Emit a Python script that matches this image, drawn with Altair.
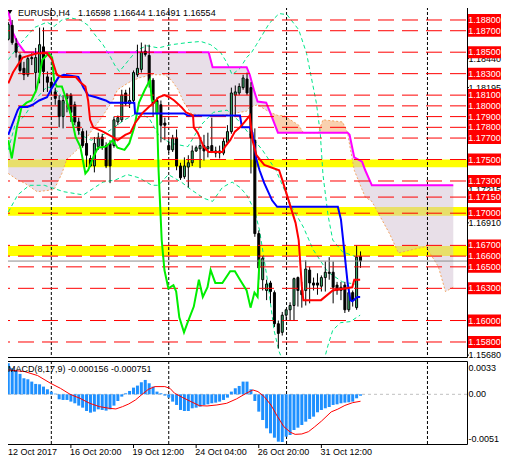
import altair as alt
import pandas as pd

# ---------------- EURUSD H4 candles ----------------
opens = [1.1862,1.1875,1.1858,1.1847,1.1835,1.1829,1.1845,1.1831,1.1831,1.1855,
         1.1827,1.1822,1.1813,1.1805,1.1790,1.1807,1.1810,1.1801,1.1785,1.1776,
         1.1765,1.1751,1.1744,1.1762,1.1771,1.1763,1.1765,1.1763,1.1785,1.1787,
         1.1812,1.1802,1.1805,1.1829,1.1834,1.1851,1.1847,1.1824,1.1805,1.1801,
         1.1784,1.1763,1.1759,1.1770,1.1744,1.1734,1.1743,1.1747,1.1758,1.1760,
         1.1763,1.1760,1.1763,1.1758,1.1756,1.1756,1.1766,1.1776,1.1810,1.1812,
         1.1817,1.1825,1.1817,1.1768,1.1681,1.1638,1.1628,1.1635,1.1626,1.1597,
         1.1589,1.1605,1.1610,1.1614,1.1640,1.1628,1.1628,1.1647,1.1635,1.1635,
         1.1632,1.1640,1.1645,1.1645,1.1633,1.1628,1.1633,1.1610,1.1626,1.1612,
         1.16598]
highs = [1.1878,1.1880,1.1863,1.1849,1.1841,1.1847,1.1849,1.1854,1.1873,1.1873,
         1.1832,1.1826,1.1817,1.1810,1.1810,1.1812,1.1812,1.1804,1.1789,1.1779,
         1.1777,1.1754,1.1771,1.1775,1.1774,1.1766,1.1768,1.1790,1.1791,1.1815,
         1.1815,1.1817,1.1833,1.1857,1.1859,1.1857,1.1857,1.1826,1.1808,1.1805,
         1.1789,1.1768,1.1773,1.1778,1.1747,1.1752,1.1754,1.1763,1.1763,1.1770,
         1.1773,1.1775,1.1789,1.1762,1.1763,1.1770,1.1782,1.1817,1.1819,1.1821,
         1.1829,1.1831,1.1822,1.1779,1.1684,1.1660,1.1638,1.1637,1.1628,1.1600,
         1.1608,1.1611,1.1617,1.1640,1.1641,1.1636,1.1656,1.1650,1.1640,1.1644,
         1.1642,1.1655,1.1659,1.1655,1.1636,1.1636,1.1636,1.1630,1.1628,1.1670,
         1.16644]
lows = [1.1861,1.1857,1.1845,1.1831,1.1824,1.1827,1.1838,1.1812,1.1821,1.1813,
        1.1813,1.1810,1.1801,1.1780,1.1779,1.1794,1.1785,1.1782,1.1773,1.1761,
        1.1743,1.1743,1.1738,1.1759,1.1759,1.1742,1.1728,1.1761,1.1782,1.1785,
        1.1800,1.1798,1.1802,1.1827,1.1831,1.1846,1.1817,1.1790,1.1789,1.1766,
        1.1768,1.1756,1.1757,1.1740,1.1731,1.1732,1.1724,1.1744,1.1757,1.1742,
        1.1749,1.1752,1.1756,1.1752,1.1751,1.1754,1.1764,1.1774,1.1790,1.1810,
        1.1815,1.1810,1.1737,1.1678,1.1638,1.1628,1.1619,1.1616,1.1594,1.1574,
        1.1586,1.1600,1.1600,1.1600,1.1613,1.1612,1.1614,1.1616,1.1628,1.1624,
        1.1627,1.1627,1.1638,1.1616,1.1624,1.1619,1.1607,1.1608,1.1613,1.1610,
        1.16491]
closes = [1.1876,1.1859,1.1850,1.1833,1.1829,1.1844,1.1844,1.1845,1.1857,1.1832,
          1.1822,1.1817,1.1807,1.1790,1.1805,1.1810,1.1794,1.1785,1.1777,1.1763,
          1.1754,1.1744,1.1765,1.1770,1.1763,1.1744,1.1744,1.1787,1.1789,1.1810,
          1.1802,1.1805,1.1831,1.1835,1.1850,1.1848,1.1821,1.1802,1.1793,1.1782,
          1.1782,1.1759,1.1770,1.1744,1.1733,1.1744,1.1747,1.1758,1.1761,1.1763,
          1.1758,1.1762,1.1758,1.1756,1.1758,1.1767,1.1776,1.1812,1.1813,1.1818,
          1.1826,1.1812,1.1770,1.1681,1.1649,1.1658,1.1634,1.1627,1.1597,1.1588,
          1.1605,1.1610,1.1614,1.1639,1.1628,1.1624,1.1648,1.1635,1.1633,1.1633,
          1.1640,1.1645,1.1644,1.1631,1.1628,1.1631,1.1610,1.1626,1.1619,1.1659,
          1.16554]

# ---------------- Ichimoku ----------------
tenkan_bar = [0,1.2,2.4,3.7,5.4,7.4,9.9,11.2,12.4,13.7,17.2,18.4,19.7,20.4,20.9,21.7,24.2,26.7,27.9,29.9,
              31.2,32.4,34.2,35.9,37.2,38.4,39.9,41.2,42.4,44.2,45.4,47.2,47.4,48.4,49.9,51.2,54.7,55.4,56.7,57.9,
              59.2,60.4,61.7,62.4,63.4,65.4,69.2,70.0,73.4,74.2,75.0,75.4,79.9,82.9,87.9,88.4,89.9]
tenkan_val = [1.1821,1.1831,1.1838,1.1845,1.1847,1.1849,1.1849,1.1843,1.1829,1.1827,1.1827,1.1822,1.1818,1.1805,1.1787,1.1780,1.1776,1.1771,1.1768,1.1773,
              1.1775,1.1784,1.1793,1.1799,1.1803,1.1808,1.1810,1.1808,1.1805,1.1799,1.1794,1.1791,1.1780,1.1775,1.1762,1.1757,1.1757,1.1762,1.1768,1.1776,
              1.1780,1.1785,1.1791,1.1768,1.1754,1.1745,1.1740,1.1731,1.1691,1.1675,1.1632,1.1619,1.1619,1.1628,1.1631,1.1638,1.1638]
kijun_bar = [0,2.4,2.9,4.9,6.2,7.9,9.9,11.2,12.9,14.2,17.9,19.2,20.4,22.4,24.9,25.9,32.2,32.4,44.9,45.9,
             59.2,59.7,61.7,62.4,63.4,64.2,65.4,67.4,68.7,84.2,85.0,85.9,86.7,87.4,87.9,89.2,89.9]
kijun_val = [1.1773,1.1796,1.1799,1.1799,1.1801,1.1805,1.1808,1.1817,1.1827,1.1829,1.1827,1.1817,1.1810,1.1808,1.1805,1.1803,1.1803,1.1793,1.1793,1.1791,
             1.1791,1.1780,1.1780,1.1775,1.1750,1.1740,1.1728,1.1712,1.1706,1.1706,1.1694,1.1663,1.1635,1.1619,1.1618,1.1622,1.1622]
chikou_bar = [0,0.9,2.2,3.4,4.7,5.9,7.2,7.9,8.7,10.4,11.2,11.7,12.4,13.7,14.9,15.9,17.2,18.4,19.7,20.4,
              21.7,22.9,24.9,26.7,27.9,29.7,30.9,32.2,33.4,34.9,36.2,36.7,37.9,38.4,39.2,39.9,40.9,42.2,42.9,43.7,
              44.9,45.9,47.4,48.7,49.7,50.9,51.7,52.9,54.7,56.7,57.9,59.2,60.9,61.9,62.9,63.7,64.2]
chikou_val = [1.1768,1.1751,1.1780,1.1799,1.1803,1.1805,1.1815,1.1827,1.1843,1.1849,1.1845,1.1824,1.1818,1.1818,1.1805,1.1793,1.1771,1.1762,1.1737,1.1740,
              1.1752,1.1761,1.1762,1.1768,1.1761,1.1759,1.1765,1.1780,1.1803,1.1815,1.1824,1.1805,1.1803,1.1740,1.1675,1.1647,1.1630,1.1633,1.1627,1.1603,
              1.1589,1.1599,1.1613,1.1638,1.1622,1.1631,1.1647,1.1635,1.1635,1.1646,1.1646,1.1638,1.1628,1.1612,1.1626,1.1622,1.1657]
cloud_bar = [0,1.2,2.4,4.2,7.4,11.7,13.7,14.9,16.7,19.2,20.9,22.4,24.2,26.7,27.9,30.9,33.4,36.7,39.9,41.7,
             43.4,44.9,46.7,49.2,51.2,52.2,54.2,57.4,60.9,61.7,62.9,63.7,65.9,66.9,68.9,70.4,74.2,75.4,79.2,80.4,
             85.4,86.7,87.2,88.4,90.4,91.2,92.9,97.4,99.7,106.7,109.9,111.7,113.7]
span_b = [1.1889,1.1868,1.1859,1.1850,1.1850,1.1850,1.1850,1.1850,1.1850,1.1850,
          1.1850,1.1850,1.1850,1.1850,1.1850,1.1850,1.1850,1.1850,1.1850,1.1850,
          1.1850,1.1850,1.1850,1.1850,1.1850,1.1836,1.1836,1.1836,1.1836,1.1829,
          1.1813,1.1804,1.1803,1.1794,1.1775,1.1775,1.1775,1.1775,1.1775,1.1775,
          1.1775,1.1775,1.1773,1.1752,1.1748,1.1740,1.1726,1.1726,1.1726,1.1726,
          1.1726,1.1726,1.1726]
span_a = [1.1737,1.1734,1.1731,1.1728,1.1720,1.1722,1.1737,1.1750,1.1756,1.1765,
          1.1775,1.1782,1.1791,1.1805,1.1815,1.1822,1.1826,1.1829,1.1829,1.1824,
          1.1815,1.1803,1.1793,1.1791,1.1791,1.1791,1.1791,1.1793,1.1795,1.1799,
          1.1800,1.1801,1.1796,1.1794,1.1791,1.1791,1.1782,1.1775,1.1775,1.1787,
          1.1785,1.1775,1.1764,1.1740,1.1722,1.1715,1.1711,1.1681,1.1663,1.1669,
          1.1650,1.1627,1.1631]
cloud_segments = [("thistle", 0.0, 66.9), ("sandy", 66.9, 75.4), ("sandy", 79.2, 86.7), ("thistle", 86.7, 114.0)]

# ---------------- Bollinger-style bands ----------------
bb_up_bar = [0,2.9,6.7,9.9,11.7,13.7,15.9,18.4,20.4,22.2,24.2,25.9,27.2,28.4,30.4,32.9,35.4,38.4,41.7,45.9,
             49.2,51.7,54.2,55.9,57.2,59.2,60.9,62.2,63.4,64.9,66.7,69.2,71.2,74.2,76.2,77.4,78.7,79.7,80.4,81.7,
             82.9,85.4,89.9]
bb_up_val = [1.1843,1.1857,1.1873,1.1878,1.1874,1.1880,1.1882,1.1880,1.1875,1.1866,1.1857,1.1847,1.1838,1.1832,1.1841,1.1852,1.1856,1.1854,1.1857,1.1859,
             1.1860,1.1857,1.1850,1.1840,1.1829,1.1835,1.1845,1.1850,1.1857,1.1866,1.1877,1.1886,1.1885,1.1871,1.1849,1.1827,1.1803,1.1775,1.1736,1.1698,
             1.1675,1.1664,1.1658]
bb_mid_bar = [0,1.7,4.2,6.7,9.9,12.9,15.4,18.4,21.2,24.2,26.7,29.7,32.9,35.9,38.7,41.7,45.9,49.2,52.4,55.9,
              59.2,61.7,64.9,68.4,72.4,75.4,77.9,81.7,85.4,89.9]
bb_mid_val = [1.1759,1.1782,1.1791,1.1805,1.1818,1.1813,1.1796,1.1773,1.1768,1.1773,1.1779,1.1787,1.1793,1.1789,1.1771,1.1765,1.1762,1.1782,1.1794,1.1796,
              1.1785,1.1773,1.1759,1.1740,1.1706,1.1687,1.1666,1.1645,1.1636,1.1633]
bb_low_bar = [0,2.4,5.4,9.2,14.2,19.2,24.2,27.4,30.4,33.4,36.7,38.4,40.9,44.2,46.7,49.9,52.2,54.7,57.2,59.2,
              60.9,62.9,64.2,66.2,67.9,69.2,71.7,76.7,80.4,81.7,82.9,84.9,87.4,89.9]
bb_low_val = [1.1701,1.1717,1.1726,1.1726,1.1720,1.1717,1.1729,1.1731,1.1736,1.1733,1.1726,1.1726,1.1736,1.1729,1.1722,1.1714,1.1711,1.1724,1.1729,1.1724,
              1.1717,1.1703,1.1684,1.1638,1.1591,1.1571,1.1549,1.1545,1.1559,1.1577,1.1591,1.1598,1.1599,1.1605]

# ---------------- MACD(8,17,9) ----------------
macd_main = [0.00336,0.00281,0.00256,0.00220,0.00173,0.00162,0.00137,0.00112,0.00108,0.00083,
             0.00054,0.00029,0.00007,-0.00054,-0.00061,-0.00061,-0.00079,-0.00097,-0.00122,-0.00144,
             -0.00180,-0.00198,-0.00187,-0.00162,-0.00169,-0.00176,-0.00162,-0.00122,-0.00072,-0.00025,
             0.00011,0.00036,0.00072,0.00094,0.00130,0.00155,0.00119,0.00083,0.00029,0.00011,
             -0.00014,-0.00036,-0.00079,-0.00115,-0.00169,-0.00180,-0.00180,-0.00151,-0.00144,-0.00133,
             -0.00115,-0.00108,-0.00097,-0.00090,-0.00079,-0.00061,-0.00036,0.00029,0.00065,0.00090,
             0.00137,0.00137,0.00054,-0.00072,-0.00187,-0.00277,-0.00367,-0.00421,-0.00468,-0.00511,
             -0.005146,-0.00457,-0.00439,-0.00385,-0.00360,-0.00331,-0.00295,-0.00266,-0.00241,-0.00194,
             -0.00169,-0.00151,-0.00137,-0.00115,-0.00108,-0.00097,-0.00090,-0.00086,-0.00079,-0.00043,
             -0.000156]
signal_bar = [0,4.2,7.5,10.8,13.3,15.8,18.3,20.8,23.3,25.8,27.5,29.2,30.8,32.5,34.2,35.8,37.5,40,41.3,42.5,
              44.6,46.7,48.8,50.8,53.3,55.8,58.3,60.8,62.5,63.8,65.4,67.1,68.8,70.4,72.1,73.3,75,76.7,78.3,80,
              82.5,84.2,86,88,90]
signal_val = [0.00263,0.00245,0.00202,0.00119,0.00065,0.0,-0.00043,-0.00097,-0.00133,-0.00151,-0.00158,-0.00133,-0.00104,-0.00061,0.0,0.00054,0.00083,0.00083,0.00065,0.00011,
              -0.00036,-0.00079,-0.00122,-0.00126,-0.00115,-0.00097,-0.00050,0.00011,0.00047,0.00029,-0.00025,-0.00115,-0.00241,-0.00349,-0.00410,-0.00432,-0.00428,-0.00403,-0.00350,-0.00290,
              -0.00190,-0.00160,-0.00120,-0.00090,-0.000751]

# ---------------- levels, labels, texts ----------------
level_prices = [1.188,1.187,1.185,1.183,1.181,1.180,1.179,1.178,1.177,1.175,1.173,1.1715,1.170,1.167,1.166,1.165,1.163,1.160,1.158]
level_labels = ["1.18800","1.18700","1.18500","1.18300","1.18100","1.18000","1.17900","1.17800","1.17700","1.17500",
                "1.17300","1.17150","1.17000","1.16700","1.16600","1.16500","1.16300","1.16000","1.15800"]
band_lo = [1.17428, 1.16977, 1.16600]
band_hi = [1.17500, 1.17058, 1.16694]
scale_prices = [1.18440, 1.18170, 1.17215, 1.16910, 1.15678]
scale_labels = ["1.18440", "1.18195", "1.17215", "1.16910", "1.15680"]
bid_price = 1.16554
sep_bars = [11, 41, 71.1, 107.1]
time_bars = [16, 32, 48, 64, 80]
time_labels = ["16 Oct 20:00", "19 Oct 12:00", "24 Oct 04:00", "26 Oct 20:00", "31 Oct 12:00"]
first_time_label = "12 Oct 2017"
title_symbol = "EURUSD,H4"
title_prices = "1.16598 1.16644 1.16491 1.16554"
macd_title = "MACD(8,17,9) -0.000156 -0.000751"
macd_scale_labels = ["0.00336", "0.00", "-0.005146"]

# ---------------- geometry / scales ----------------
FONT = "Liberation Sans"
FS = 9
W, H1, H2 = 465, 355, 83
XS = alt.Scale(domain=[-0.325, 115.925], nice=False, zero=False)
PS = alt.Scale(domain=[1.156601, 1.189677], nice=False, zero=False)
MS = alt.Scale(domain=[-0.005361, 0.003592], nice=False, zero=False)


def xq(f="bar"):
    return alt.X(f"{f}:Q", scale=XS, axis=None)


def yp(f):
    return alt.Y(f"{f}:Q", scale=PS, axis=None)


def ym(f):
    return alt.Y(f"{f}:Q", scale=MS, axis=None)


candles = pd.DataFrame({"bar": list(range(len(opens))), "o": opens, "h": highs, "l": lows, "c": closes})
candles["top"] = candles[["o", "c"]].max(axis=1)
candles["bot"] = candles[["o", "c"]].min(axis=1)
candles["up"] = candles["c"] >= candles["o"]

rows = []
for k, (kind, b0, b1) in enumerate(cloud_segments):
    for b, a, bb in zip(cloud_bar, span_a, span_b):
        if b0 <= b <= b1:
            rows.append({"bar": b, "a": a, "b": bb, "seg": k, "kind": kind})
cloud_df = pd.DataFrame(rows)
spans_df = pd.DataFrame({"bar": cloud_bar, "a": span_a, "b": span_b})

bb_df = pd.concat([
    pd.DataFrame({"bar": bb_up_bar, "v": bb_up_val, "band": "up"}),
    pd.DataFrame({"bar": bb_mid_bar, "v": bb_mid_val, "band": "mid"}),
    pd.DataFrame({"bar": bb_low_bar, "v": bb_low_val, "band": "low"}),
])
levels_df = pd.DataFrame({"p": level_prices, "lab": level_labels})
bands_df = pd.DataFrame({"lo": band_lo, "hi": band_hi})
scale_df = pd.DataFrame({"p": scale_prices, "lab": scale_labels})
sep_df = pd.DataFrame({"bar": sep_bars})

txt = dict(font=FONT, fontSize=FS, color="black")

# ---------------- main panel ----------------
bands = alt.Chart(bands_df).mark_rect(color="#ffff00").encode(
    x=alt.value(0), x2=alt.value(W), y=yp("hi"), y2=alt.Y2("lo"))
cloud = alt.Chart(cloud_df).mark_area(opacity=0.5, clip=True).encode(
    x=xq(), y=yp("a"), y2=alt.Y2("b"), detail="seg:N",
    color=alt.Color("kind:N", scale=alt.Scale(domain=["thistle", "sandy"], range=["#d2c0d2", "#f4a460"]), legend=None))
seps = alt.Chart(sep_df).mark_rule(color="black", strokeDash=[3, 2], strokeWidth=1).encode(x=xq())
bbands = alt.Chart(bb_df).mark_line(color="#00e68a", strokeWidth=1, strokeDash=[4, 3], clip=True).encode(
    x=xq(), y=yp("v"), detail="band:N")
span_a_line = alt.Chart(spans_df).mark_line(color="#f4a460", strokeWidth=1, strokeDash=[2, 2], clip=True).encode(x=xq(), y=yp("a"))
span_b_line = alt.Chart(spans_df).mark_line(color="#ff00ff", strokeWidth=2, clip=True).encode(x=xq(), y=yp("b"))
wicks = alt.Chart(candles).mark_rule(color="black", strokeWidth=1, clip=True).encode(x=xq(), y=yp("l"), y2=alt.Y2("h"))
bodies = alt.Chart(candles).mark_bar(size=2, stroke="black", strokeWidth=1, clip=True).encode(
    x=xq(), y=yp("bot"), y2=alt.Y2("top"),
    fill=alt.condition("datum.up", alt.value("#3cb371"), alt.value("#000000")))
level_lines = alt.Chart(levels_df).mark_rule(color="#ff0000", strokeWidth=1, strokeDash=[16, 8], strokeDashOffset=23).encode(y=yp("p"))
bid_line = alt.Chart(pd.DataFrame({"p": [bid_price]})).mark_rule(color="#8c8c8c", strokeWidth=1).encode(y=yp("p"))
chikou = alt.Chart(pd.DataFrame({"bar": chikou_bar, "v": chikou_val})).mark_line(color="#00ee00", strokeWidth=2, clip=True).encode(x=xq(), y=yp("v"))
kijun = alt.Chart(pd.DataFrame({"bar": kijun_bar, "v": kijun_val})).mark_line(color="#0000ff", strokeWidth=2, clip=True).encode(x=xq(), y=yp("v"))
tenkan = alt.Chart(pd.DataFrame({"bar": tenkan_bar, "v": tenkan_val})).mark_line(color="#ff0000", strokeWidth=2, clip=True).encode(x=xq(), y=yp("v"))

# right-hand price labels (kept inside the 510 px window)
BX0, BX1 = W + 1, W + 34
LX = W + 1.5
scale_ticks = alt.Chart(scale_df).mark_rule(color="black").encode(x=alt.value(W), x2=alt.value(W + 2), y=yp("p"))
scale_text = alt.Chart(scale_df).mark_text(align="left", baseline="middle", **txt).encode(
    x=alt.value(LX), y=yp("p"), text="lab:N")
boxes = alt.Chart(levels_df).transform_calculate(
    t="datum.p + 0.00056", b="datum.p - 0.00056").mark_rect(color="#ff0000").encode(
    x=alt.value(BX0), x2=alt.value(BX1), y=yp("t"), y2=alt.Y2("b"))
box_text = alt.Chart(levels_df).mark_text(align="center", baseline="middle", font=FONT, fontSize=FS, color="white").encode(
    x=alt.value((BX0 + BX1) / 2), y=yp("p"), text="lab:N")
tri = alt.Chart(pd.DataFrame({"k": [0]})).mark_point(shape="triangle-down", filled=True, color="black", size=22,
                                                     opacity=1, strokeWidth=0).encode(x=alt.value(8), y=alt.value(10))
title1 = alt.Chart(pd.DataFrame({"t": [title_symbol]})).mark_text(align="left", baseline="top", **txt).encode(
    x=alt.value(16), y=alt.value(6.5), text="t:N")
title2 = alt.Chart(pd.DataFrame({"t": [title_prices]})).mark_text(align="left", baseline="top", **txt).encode(
    x=alt.value(76), y=alt.value(6.5), text="t:N")

main = alt.layer(bands, cloud, seps, bbands, span_a_line, span_b_line, wicks, bodies,
                 level_lines, bid_line, chikou, kijun, tenkan,
                 scale_ticks, scale_text, boxes, box_text, tri, title1, title2).properties(width=W, height=H1)

# ---------------- MACD panel ----------------
macd_df = pd.DataFrame({"bar": list(range(len(macd_main))), "v": macd_main})
zero_line = alt.Chart(pd.DataFrame({"v": [0.0]})).mark_rule(color="#c0c0c0", strokeDash=[3, 3]).encode(y=ym("v"))
seps2 = alt.Chart(sep_df).mark_rule(color="black", strokeDash=[3, 2], strokeWidth=1).encode(x=xq())
hist = alt.Chart(macd_df).mark_bar(size=3, color="#1e90ff", clip=True).encode(x=xq(), y=ym("v"), y2=alt.datum(0))
signal = alt.Chart(pd.DataFrame({"bar": signal_bar, "v": signal_val})).mark_line(color="#ff0000", strokeWidth=1, clip=True).encode(x=xq(), y=ym("v"))
mtitle = alt.Chart(pd.DataFrame({"t": [macd_title]})).mark_text(align="left", baseline="top", **txt).encode(
    x=alt.value(6), y=alt.value(4.2), text="t:N")
mlab_pos = [7, 33, 78]
mlabs = [alt.Chart(pd.DataFrame({"t": [lab]})).mark_text(align="left", baseline="middle", limit=32, ellipsis="\u200a", **txt).encode(
    x=alt.value(LX), y=alt.value(pos), text="t:N") for lab, pos in zip(macd_scale_labels, mlab_pos)]
tl_df = pd.DataFrame({"bar": time_bars, "t": time_labels})
tlabels = alt.Chart(tl_df).mark_text(align="left", baseline="top", dx=-1, **txt).encode(
    x=xq(), y=alt.value(H2 + 4), text="t:N")
tfirst = alt.Chart(pd.DataFrame({"t": [first_time_label]})).mark_text(align="left", baseline="top", **txt).encode(
    x=alt.value(6), y=alt.value(H2 + 4), text="t:N")
tticks = alt.Chart(tl_df).mark_rule(color="black").encode(x=xq(), y=alt.value(H2), y2=alt.value(H2 + 4))

macd = alt.layer(zero_line, seps2, hist, signal, mtitle, *mlabs, tlabels, tfirst, tticks).properties(width=W, height=H2)

chart = alt.vconcat(main, macd, spacing=4, bounds="flush").resolve_scale(
    x="independent", y="independent").configure_view(stroke="black", strokeWidth=1).properties(
    padding={"left": -7, "top": -7, "right": 0, "bottom": 0})

chart.save("out.html", embed_options={"renderer": "svg", "actions": False})
